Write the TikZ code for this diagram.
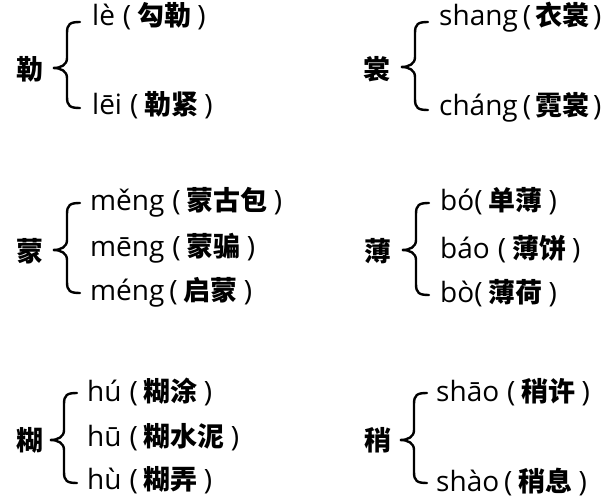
\documentclass[tikz,border=0pt]{standalone}
\usepackage{fontspec}
\setmainfont{Noto Sans CJK SC}
\newfontfamily\pyfont{Open Sans}
\newcommand\zh[1]{{\fontsize{27}{30}\selectfont\bfseries #1}}
\newcommand\ingap{6pt}
% pinyin, gap before '(', Chinese word
\newcommand\ent[3]{{\pyfont #1}\hspace{#2}{\pyfont(}\hspace{\ingap}\zh{#3}\hspace{\ingap}{\pyfont)}}
\newcommand\mybrace[4]{%
  \pgfmathsetmacro\vx{#1+14}%
  \pgfmathsetmacro\hx{#1+27}%
  \draw[bracestyle] (\hx,#3) .. controls (\vx+3,#3) and (\vx,#3+2) .. (\vx,#3+11)
    -- (\vx,#2-10) .. controls (\vx,#2-3) and (\vx-6,#2) .. (#1,#2)
    .. controls (\vx-6,#2) and (\vx,#2+3) .. (\vx,#2+10)
    -- (\vx,#4-11) .. controls (\vx,#4-2) and (\vx+3,#4) .. (\hx,#4);}
\begin{document}
\begin{tikzpicture}[x=1pt,y=-1pt,
  head/.style={font=\fontsize{27}{32}\selectfont\bfseries, inner sep=0pt},
  item/.style={font=\fontsize{28}{32}\selectfont, anchor=base west, inner sep=0pt},
  tight/.style={execute at begin node={\renewcommand\ingap{4pt}}},
  bracestyle/.style={line width=2.4pt, line cap=round}]
\useasboundingbox[fill=white] (0,0) rectangle (606,500);
% group 1
\node[head] (h1) at (30,69) {勒};
\mybrace{53}{68}{22}{108}
\node[item] (a1) at (92,26) {\ent{lè}{8pt}{勾勒}};
\node[item] (a2) at (92,115) {\ent{lēi}{8pt}{勒紧}};
% group 2
\node[head] (h2) at (377,69) {裳};
\mybrace{401}{67}{22}{110}
\node[item,tight] (b1) at (439,26) {\ent{shang}{5pt}{衣裳}};
\node[item,tight] (b2) at (439,116) {\ent{cháng}{5pt}{霓裳}};
% group 3
\node[head] (h3) at (30,251) {蒙};
\mybrace{53}{250}{203}{293}
\node[item] (c1) at (90,211) {\ent{měng}{8pt}{蒙古包}};
\node[item] (c2) at (90,257) {\ent{mēng}{8pt}{蒙骗}};
\node[item] (c3) at (90,301) {\ent{méng}{5pt}{启蒙}};
% group 4
\node[head] (h4) at (378,251) {薄};
\mybrace{402}{250}{203}{295}
\node[item] (d1) at (440,211) {\ent{bó}{0pt}{单薄}};
\node[item] (d2) at (440,259) {\ent{báo}{8pt}{薄饼}};
\node[item] (d3) at (440,302) {\ent{bò}{0pt}{薄荷}};
% group 5
\node[head] (h5) at (30,440) {糊};
\mybrace{50}{440}{393}{483}
\node[item] (e1) at (87,401) {\ent{hú}{8pt}{糊涂}};
\node[item] (e2) at (87,446) {\ent{hū}{8pt}{糊水泥}};
\node[item] (e3) at (87,489) {\ent{hù}{8pt}{糊弄}};
% group 6
\node[head] (h6) at (378,440) {稍};
\mybrace{400}{440}{393}{483}
\node[item] (f1) at (436,401) {\ent{shāo}{8pt}{稍许}};
\node[item] (f2) at (436,491) {\ent{shào}{5pt}{稍息}};
\end{tikzpicture}
\end{document}
